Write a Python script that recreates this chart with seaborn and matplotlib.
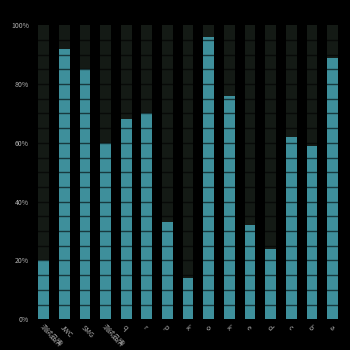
import matplotlib
matplotlib.use("Agg")
import matplotlib.pyplot as plt
import seaborn as sns
import pandas as pd
import numpy as np

categories = ["测试品牌", "JWC", "SMG", "测试品牌", "q", "r", "p", "k", "o", "k", "e", "d", "c", "b", "a"]
values = [20, 92, 85, 60, 68, 70, 33, 14, 96, 76, 32, 24, 62, 59, 89]
track = [100] * len(categories)
y_ticks = [0, 20, 40, 60, 80, 100]
y_tick_labels = ["0%", "20%", "40%", "60%", "80%", "100%"]

sns.set_style("white")
plt.rcParams["font.family"] = ["Noto Sans CJK SC", "DejaVu Sans"]

df = pd.DataFrame({"cat": [f"{i}" for i in range(len(categories))],
                   "value": values, "track": track})

fig = plt.figure(figsize=(3.5, 3.5), dpi=100, facecolor="black")
ax = fig.add_axes([0.095, 0.088, 0.885, 0.84])
ax.set_facecolor("black")

sns.barplot(data=df, x="cat", y="track", color="#141a15", width=0.52,
            saturation=1, linewidth=0, edgecolor="none", ax=ax, zorder=1)
sns.barplot(data=df, x="cat", y="value", color="#3e8f9b", width=0.52,
            saturation=1, linewidth=0, edgecolor="none", ax=ax, zorder=2)

# segment separators every 5%
for v in np.arange(5, 100, 5):
    ax.axhline(v, color="black", alpha=0.6, lw=1.0, zorder=3)

ax.set_ylim(0, 100)
ax.set_xlim(-0.5, len(categories) - 0.5)
ax.set_yticks(y_ticks)
ax.set_yticklabels(y_tick_labels, color="#b0b0b0", fontsize=5)
ax.set_xticks(range(len(categories)))
ax.set_xticklabels(categories, rotation=-45, ha="left", rotation_mode="anchor",
                   color="#b0b0b0", fontsize=5)
ax.tick_params(axis="both", length=0, pad=3)
ax.set_xlabel("")
ax.set_ylabel("")
ax.grid(False)
for s in ax.spines.values():
    s.set_visible(False)

fig.savefig("out.png", dpi=100, facecolor="black")
